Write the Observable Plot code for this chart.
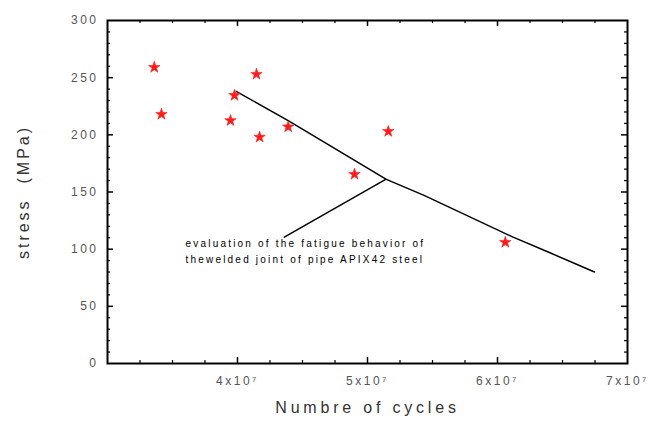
<!DOCTYPE html>
<html>
<head>
<meta charset="utf-8">
<script src="https://cdn.jsdelivr.net/npm/d3@7"></script>
<script src="https://cdn.jsdelivr.net/npm/@observablehq/plot@0.6"></script>
<style>
  body { margin: 0; background: #fff; }
  #chart { width: 649px; height: 430px; }
</style>
</head>
<body>
<div id="chart"></div>
<script>
// Measured points (cycles, stress MPa)
const cycles = [3.36e7, 3.415e7, 3.946e7, 3.977e7, 4.146e7, 4.17e7, 4.39e7, 4.9e7, 5.16e7, 6.06e7];
const stress = [259, 218, 212.5, 234.5, 253, 198, 207, 165.5, 203, 106];

// Fitted curve
const curveCycles = [3.99e7, 4.39e7, 5.145e7, 5.435e7, 6.12e7, 6.39e7, 6.746e7];
const curveStress = [238, 212.5, 161, 147, 110.5, 97.5, 80];

// Annotation pointer and text
const pointerCycles = [5.14e7, 4.36e7];
const pointerStress = [161, 110.5];
const noteCycles = [3.6e7, 3.6e7];
const noteStress = [105, 91];
const noteLines = ["evaluation of the fatigue behavior of", "thewelded joint of pipe APIX42 steel"];

// Axes
const xMajor = [4e7, 5e7, 6e7, 7e7];
const xMajorLabels = ["4x10\u2077", "5x10\u2077", "6x10\u2077", "7x10\u2077"];
const xAllTicks = [3e7, 3.25e7, 3.5e7, 3.75e7, 4e7, 4.25e7, 4.5e7, 4.75e7, 5e7, 5.25e7, 5.5e7, 5.75e7, 6e7, 6.25e7, 6.5e7, 6.75e7, 7e7];
const yMajor = [0, 50, 100, 150, 200, 250, 300];
const yAllTicks = d3.range(0, 301, 10);

const points = cycles.map((c, i) => ({c, s: stress[i]}));
const curve = curveCycles.map((c, i) => ({c, s: curveStress[i]}));
const pointer = pointerCycles.map((c, i) => ({c, s: pointerStress[i]}));
const notes = noteLines.map((t, i) => ({c: noteCycles[i], s: noteStress[i], t}));

const W = 649, H = 430, mL = 107, mR = 22, mT = 20, mB = 67;
const innerH = H - mT - mB, innerW = W - mL - mR;
const xMinor = xAllTicks.filter(v => !xMajor.includes(v) && v !== 3e7);
const yMinor = yAllTicks.filter(v => !yMajor.includes(v));
const xMaj = xMajor.filter(v => v !== 7e7);
const yMaj = yMajor.filter(v => v !== 0 && v !== 300);

const chart = Plot.plot({
  width: W, height: H,
  marginLeft: mL, marginRight: mR, marginTop: mT, marginBottom: mB,
  style: {fontFamily: "Liberation Sans, Arial, sans-serif", background: "#fff"},
  x: {domain: [3e7, 7e7]},
  y: {domain: [0, 300]},
  marks: [
    // inward ticks on all four sides
    Plot.tickX(xMaj, {x: d => d, insetTop: innerH - 6, stroke: "#000", strokeWidth: 1.5}),
    Plot.tickX(xMaj, {x: d => d, insetBottom: innerH - 6, stroke: "#000", strokeWidth: 1.5}),
    Plot.tickX(xMinor, {x: d => d, insetTop: innerH - 3, stroke: "#000", strokeWidth: 1.2}),
    Plot.tickX(xMinor, {x: d => d, insetBottom: innerH - 3, stroke: "#000", strokeWidth: 1.2}),
    Plot.tickY(yMaj, {y: d => d, insetRight: innerW - 6, stroke: "#000", strokeWidth: 1.5}),
    Plot.tickY(yMaj, {y: d => d, insetLeft: innerW - 6, stroke: "#000", strokeWidth: 1.5}),
    Plot.tickY(yMinor, {y: d => d, insetRight: innerW - 3, stroke: "#000", strokeWidth: 1.2}),
    Plot.tickY(yMinor, {y: d => d, insetLeft: innerW - 3, stroke: "#000", strokeWidth: 1.2}),
    Plot.frame({stroke: "#000", strokeWidth: 2}),
    Plot.axisX(xMajor, {tickSize: 0, tickPadding: 13, fontSize: 12, fill: "#555",
      tickFormat: (d) => xMajorLabels[xMajor.indexOf(d)], label: null}),
    Plot.axisY(yMajor, {tickSize: 0, tickPadding: 9, fontSize: 12, fill: "#555", label: null}),
    Plot.text(["Numbre of cycles"], {frameAnchor: "bottom", dy: 49, text: d => d, fontSize: 16, fill: "#333"}),
    Plot.text(["stress  (MPa)"], {frameAnchor: "left", textAnchor: "middle", lineAnchor: "middle", dx: -84, rotate: -90, text: d => d, fontSize: 16, fill: "#333"}),
    Plot.line(curve, {x: "c", y: "s", stroke: "#000", strokeWidth: 1.5, curve: "linear"}),
    Plot.line(pointer, {x: "c", y: "s", stroke: "#000", strokeWidth: 1.5}),
    Plot.text(notes, {x: "c", y: "s", text: "t", textAnchor: "start", fontSize: 10, fill: "#000"}),
    Plot.dot(points, {x: "c", y: "s", symbol: "star", r: 3.6, fill: "#ff1a1a", stroke: "#ff1a1a", strokeWidth: 0.6})
  ]
});
document.getElementById("chart").appendChild(chart);

// letter spacing touch-ups
const svg = d3.select(chart);
svg.selectAll('g[aria-label="x-axis tick label"] text, g[aria-label="y-axis tick label"] text').style("letter-spacing", "2.5px");
svg.selectAll('g[aria-label="text"] text').each(function() {
  const t = d3.select(this).text();
  if (t === "Numbre of cycles") d3.select(this).style("letter-spacing", "3.8px");
  else if (t.startsWith("stress")) d3.select(this).style("letter-spacing", "3px");
  else d3.select(this).style("letter-spacing", "2.2px");
});
</script>
</body>
</html>
